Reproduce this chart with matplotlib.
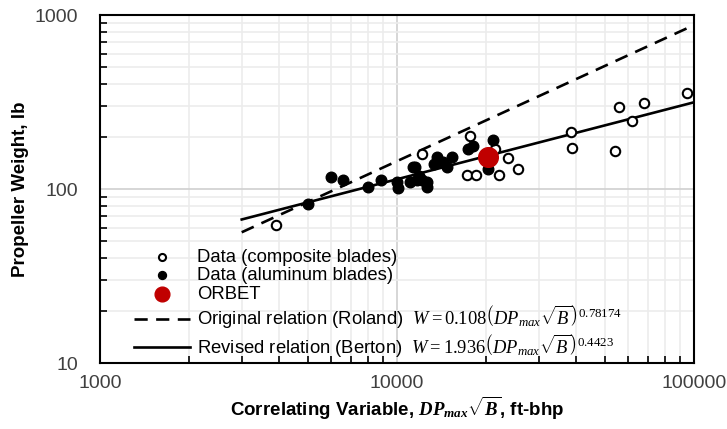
import numpy as np
import matplotlib
matplotlib.use("Agg")
from matplotlib import pyplot as plt
from matplotlib.ticker import FuncFormatter, LogLocator, NullFormatter

plt.rcParams["font.family"] = "Liberation Sans"
plt.rcParams["mathtext.fontset"] = "custom"
plt.rcParams["mathtext.rm"] = "Liberation Serif"
plt.rcParams["mathtext.it"] = "Liberation Serif:italic"
# bold math is used only in the x label, where it is bold italic
plt.rcParams["mathtext.bf"] = "Liberation Serif:italic:bold"

# composite blades (open circles)
comp_x = [3900, 12100, 17600, 17200, 18500, 21400, 22000, 23600, 25600,
          38500, 38700, 54200, 56000, 61700, 68000, 95000]
comp_y = [62, 158, 201, 120, 120, 169, 120, 151, 130,
          212, 173, 166, 297, 246, 311, 355]

# aluminum blades (filled circles)
alu_x = [5000, 6000, 6600, 8000, 8800, 10000, 10100, 11100, 11300, 11500,
         11700, 12100, 12600, 12600, 13300, 13600, 14300, 14700, 15300,
         17300, 18000, 21100, 20200, 11900]
alu_y = [82, 117, 113, 103, 112, 109, 102, 109, 134, 134,
         113, 113, 110, 103, 140, 152, 143, 134, 152,
         169, 177, 191, 131, 118]

orbet_x = [20200]
orbet_y = [152]

# relation end points, x = 3000 .. 100000
rel_x = [3000, 100000]
roland_y = [56.4, 875]
berton_y = [66.8, 315]

fig, ax = plt.subplots(figsize=(7.27, 4.29), dpi=100)
fig.subplots_adjust(left=100/727, right=694/727, top=1-15/429, bottom=1-363/429)

ax.set_xscale("log")
ax.set_yscale("log")
ax.set_xlim(1000, 100000)
ax.set_ylim(10, 1000)

ax.grid(True, which="major", color="#d0d0d0", linewidth=1.2, zorder=0)
ax.grid(True, which="minor", color="#ececec", linewidth=1.2, zorder=0)
ax.set_axisbelow(True)

ax.plot(rel_x, roland_y, color="black", linestyle=(0, (5, 3.2)), linewidth=1.9,
        label=r"Original relation (Roland)  $W=0.108\left(DP_{max}\sqrt{B}\right)^{0.78174}$")
ax.plot(rel_x, berton_y, color="black", linewidth=1.9,
        label=r"Revised relation (Berton)  $W=1.936\left(DP_{max}\sqrt{B}\right)^{0.4423}$")

ax.scatter(comp_x, comp_y, s=46, facecolor="white", edgecolor="black",
           linewidth=1.5, zorder=3, label="Data (composite blades)")
ax.scatter(alu_x, alu_y, s=58, color="black", zorder=3,
           label="Data (aluminum blades)")
ax.scatter(orbet_x, orbet_y, s=200, color="#c00000", zorder=4, label="ORBET")

h, l = ax.get_legend_handles_labels()
order = [2, 3, 4, 0, 1]
leg = ax.legend([h[i] for i in order], [l[i] for i in order],
                loc="lower left", bbox_to_anchor=(0.045, -0.012), frameon=False,
                fontsize=13.3, handlelength=3.0, handletextpad=0.4,
                labelspacing=0.08, borderaxespad=0.0, markerscale=0.75)

fmt = FuncFormatter(lambda v, p: "%d" % round(v))
ax.xaxis.set_major_formatter(fmt)
ax.yaxis.set_major_formatter(fmt)
ax.xaxis.set_minor_formatter(NullFormatter())
ax.yaxis.set_minor_formatter(NullFormatter())
ax.xaxis.set_minor_locator(LogLocator(base=10, subs=np.arange(2, 10)))
ax.yaxis.set_minor_locator(LogLocator(base=10, subs=np.arange(2, 10)))

ax.tick_params(which="both", direction="in", top=False, right=False,
               width=1.2, labelsize=14, labelcolor="#404040")
ax.tick_params(which="major", length=0)
ax.tick_params(which="minor", length=5)
ax.tick_params(axis="x", pad=9)
ax.tick_params(axis="y", pad=16)

for sp in ax.spines.values():
    sp.set_linewidth(1.5)

ax.set_ylabel("Propeller Weight, lb", fontsize=13.5, fontweight="bold", labelpad=4)
ax.set_xlabel(r"Correlating Variable, $\mathbf{DP_{max}}\sqrt{\mathbf{B}}$, ft-bhp",
              fontsize=13.5, fontweight="bold", labelpad=2)

fig.savefig("out.png", dpi=100)
